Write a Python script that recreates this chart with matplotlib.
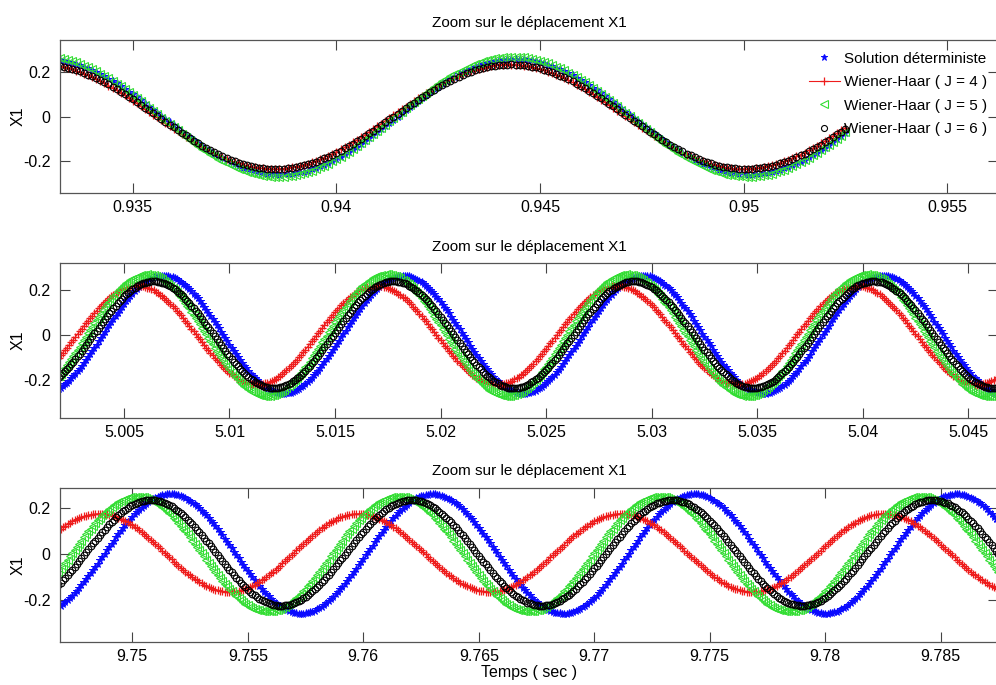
import numpy as np
import matplotlib
matplotlib.use("Agg")
import matplotlib.pyplot as plt
from matplotlib.ticker import FuncFormatter

plt.rcParams['font.family'] = ['Liberation Sans', 'DejaVu Sans']

# ---------------- data ----------------
# Each series is described by its successive extrema (time, value) as read
# off the reference; the simulated signal is sampled every DT seconds.
DT = 1e-4
SERIES_NAMES = ["Solution déterministe", "Wiener-Haar ( J = 4 )",
                "Wiener-Haar ( J = 5 )", "Wiener-Haar ( J = 6 )"]

# Panel 1 : t in [0.9320, 0.9525]
p1_det_t = [0.93284, 0.93861, 0.94438, 0.95015, 0.95592]
p1_det_v = [0.26, -0.26, 0.26, -0.26, 0.26]
p1_j4_t = [0.93269, 0.93846, 0.94423, 0.95000, 0.95577]
p1_j4_v = [0.235, -0.235, 0.235, -0.235, 0.235]
p1_j5_t = [0.93279, 0.93856, 0.94433, 0.95010, 0.95587]
p1_j5_v = [0.27, -0.27, 0.27, -0.27, 0.27]
p1_j6_t = [0.93274, 0.93851, 0.94428, 0.95005, 0.95582]
p1_j6_v = [0.235, -0.235, 0.235, -0.235, 0.235]
p1_range = (0.9320, 0.9525)

# Panel 2 : t in [5.0015, 5.0475]
p2_det_t = [5.00117, 5.00685, 5.01254, 5.01822, 5.02391, 5.02959, 5.03528, 5.04096, 5.04665, 5.05233]
p2_det_v = [-0.26, 0.265, -0.26, 0.265, -0.26, 0.265, -0.26, 0.265, -0.26, 0.265]
p2_j4_t = [4.99992, 5.00560, 5.01129, 5.01697, 5.02266, 5.02834, 5.03403, 5.03971, 5.04540, 5.05108]
p2_j4_v = [-0.22, 0.22, -0.22, 0.22, -0.22, 0.22, -0.22, 0.22, -0.22, 0.22]
p2_j5_t = [5.00040, 5.00608, 5.01177, 5.01745, 5.02314, 5.02882, 5.03451, 5.04019, 5.04588, 5.05156]
p2_j5_v = [-0.27, 0.27, -0.27, 0.27, -0.27, 0.27, -0.27, 0.27, -0.27, 0.27]
p2_j6_t = [5.00072, 5.00640, 5.01209, 5.01777, 5.02346, 5.02914, 5.03483, 5.04051, 5.04620, 5.05188]
p2_j6_v = [-0.235, 0.24, -0.235, 0.24, -0.235, 0.24, -0.235, 0.24, -0.235, 0.24]
p2_range = (4.9995, 5.0475)

# Panel 3 : t in [9.7460, 9.7885]
p3_det_t = [9.74596, 9.75163, 9.75731, 9.76298, 9.76866, 9.77433, 9.78001, 9.78568, 9.79136]
p3_det_v = [-0.26, 0.26, -0.26, 0.26, -0.26, 0.26, -0.26, 0.26, -0.26]
p3_j4_t = [9.74271, 9.74860, 9.75420, 9.75978, 9.76547, 9.77116, 9.77685, 9.78254, 9.78823]
p3_j4_v = [-0.165, 0.175, -0.165, 0.175, -0.165, 0.175, -0.165, 0.175, -0.165]
p3_j5_t = [9.74455, 9.75020, 9.75585, 9.76150, 9.76715, 9.77280, 9.77845, 9.78410, 9.78975]
p3_j5_v = [-0.25, 0.25, -0.25, 0.25, -0.25, 0.25, -0.25, 0.25, -0.25]
p3_j6_t = [9.74516, 9.75080, 9.75644, 9.76208, 9.76772, 9.77336, 9.77900, 9.78464, 9.79028]
p3_j6_v = [-0.225, 0.235, -0.225, 0.235, -0.225, 0.235, -0.225, 0.235, -0.225]
p3_range = (9.7455, 9.7885)

# axis limits and ticks
p1_xlim = (0.93321, 0.95625); p1_ylim = (-0.343, 0.345)
p2_xlim = (5.00197, 5.04641); p2_ylim = (-0.368, 0.321)
p3_xlim = (9.74687, 9.78748); p3_ylim = (-0.383, 0.287)
p1_xticks = [0.935, 0.94, 0.945, 0.95, 0.955]
p2_xticks = [5.005, 5.01, 5.015, 5.02, 5.025, 5.03, 5.035, 5.04, 5.045]
p3_xticks = [9.75, 9.755, 9.76, 9.765, 9.77, 9.775, 9.78, 9.785]
y_ticks = [-0.2, 0, 0.2]

TITLE = "Zoom sur le déplacement X1"
YLABEL = "X1"
XLABEL = "Temps ( sec )"

# ---------------- helpers ----------------
def signal(t, ext_t, ext_v):
    ext_t = np.asarray(ext_t); ext_v = np.asarray(ext_v)
    i = np.clip(np.searchsorted(ext_t, t) - 1, 0, len(ext_t) - 2)
    t0, t1 = ext_t[i], ext_t[i + 1]
    v0, v1 = ext_v[i], ext_v[i + 1]
    u = (t - t0) / (t1 - t0)
    return v0 + (v1 - v0) * (1 - np.cos(np.pi * u)) / 2

styles = [
    dict(color='#0a0aff', marker='*', linestyle='none', markersize=5.5, markeredgewidth=0.7),
    dict(color='#ee1c1c', marker='+', linestyle='-', linewidth=0.8, markersize=6, markeredgewidth=0.9),
    dict(color='#33dd33', marker='<', linestyle='none', markersize=6, markeredgewidth=0.8,
         markerfacecolor='none'),
    dict(color='#000000', marker='o', linestyle='none', markersize=4.8, markeredgewidth=0.8,
         markerfacecolor='none'),
]

W, H = 996, 685
fig = plt.figure(figsize=(W / 100, H / 100), dpi=100)

def axes_px(top, bottom, left=60, right=998):
    return fig.add_axes([left / W, (H - bottom) / H, (right - left) / W, (bottom - top) / H])

panels = [
    (axes_px(40, 193), p1_range, [(p1_det_t, p1_det_v), (p1_j4_t, p1_j4_v), (p1_j5_t, p1_j5_v), (p1_j6_t, p1_j6_v)],
     p1_xlim, p1_ylim, p1_xticks),
    (axes_px(263, 418), p2_range, [(p2_det_t, p2_det_v), (p2_j4_t, p2_j4_v), (p2_j5_t, p2_j5_v), (p2_j6_t, p2_j6_v)],
     p2_xlim, p2_ylim, p2_xticks),
    (axes_px(488, 642), p3_range, [(p3_det_t, p3_det_v), (p3_j4_t, p3_j4_v), (p3_j5_t, p3_j5_v), (p3_j6_t, p3_j6_v)],
     p3_xlim, p3_ylim, p3_xticks),
]

fmt = FuncFormatter(lambda v, p: ('%g' % round(v, 6)))

for k, (ax, rng, series, xl, yl, xt) in enumerate(panels):
    t = np.arange(rng[0], rng[1] + DT / 2, DT)
    for (et, ev), name, st in zip(series, SERIES_NAMES, styles):
        ax.plot(t, signal(t, et, ev), label=name, **st)
    ax.set_xlim(*xl)
    ax.set_ylim(*yl)
    ax.set_xticks(xt)
    ax.set_yticks(y_ticks)
    ax.xaxis.set_major_formatter(fmt)
    ax.yaxis.set_major_formatter(fmt)
    ax.tick_params(direction='in', top=True, right=True, length=7, width=0.8,
                   color='#444444', labelsize=11.5)
    ax.tick_params(axis='x', pad=5)
    ax.tick_params(axis='y', pad=7)
    for s in ax.spines.values():
        s.set_color('#555555')
        s.set_linewidth(0.9)
    ax.set_title(TITLE, fontsize=11, pad=9)
    ax.set_ylabel(YLABEL, fontsize=11.5)
    ax.yaxis.set_label_coords((26 - 60) / 938, 0.5)
    if k == 0:
        leg = ax.legend(loc='upper right', bbox_to_anchor=(998 / W, (H - 41) / H),
                        bbox_transform=fig.transFigure, frameon=False, fontsize=11,
                        handlelength=2.0, handletextpad=0.3, labelspacing=0.62,
                        borderpad=0.2, markerscale=0.9)
    if k == 2:
        ax.set_xlabel(XLABEL, fontsize=11.5, labelpad=1)

fig.savefig("out.png", dpi=100)
